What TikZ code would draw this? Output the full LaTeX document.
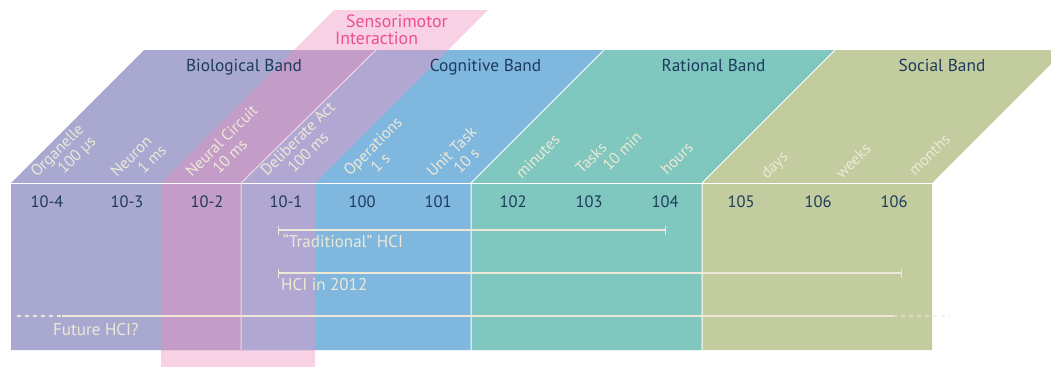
\documentclass[tikz,border=0pt]{standalone}
\usepackage{fontspec}
\setmainfont{PT Sans}
\usetikzlibrary{positioning, arrows.meta}

\definecolor{biopurple}{HTML}{A8A8D1}
\definecolor{actlavender}{HTML}{B0A8D2}
\definecolor{sensomauve}{HTML}{C49CC8}
\definecolor{sensopink}{HTML}{F9D1E4}
\definecolor{cogblue}{HTML}{80B7DF}
\definecolor{ratteal}{HTML}{7FC7BF}
\definecolor{socolive}{HTML}{C2CC9E}
\definecolor{bandnavy}{HTML}{1D3B5C}
\definecolor{scalecream}{HTML}{EEE9D6}
\definecolor{sensomagenta}{HTML}{EC4F95}
\definecolor{sensoline}{HTML}{F2D6E6}

\begin{document}
\begin{tikzpicture}[x=1pt, y=-1pt]

    % Styles
    \tikzstyle{bandlabel} = [text=bandnavy, font=\fontsize{17.3}{19}\selectfont, anchor=base, inner sep=0pt]
    \tikzstyle{sensolabel} = [text=sensomagenta, font=\fontsize{17.8}{19}\selectfont, anchor=base west, inner sep=0pt]
    \tikzstyle{powerlabel} = [text=bandnavy, font=\fontsize{16.5}{18}\selectfont, anchor=base, inner sep=0pt]
    \tikzstyle{timescale} = [text=scalecream, font=\fontsize{16}{18}\selectfont, rotate=45, anchor=base west, inner sep=0pt]
    \tikzstyle{hcilabel} = [text=scalecream, font=\fontsize{17}{19}\selectfont, anchor=base west, inner sep=0pt]
    \tikzstyle{hcirange} = [draw=scalecream, line width=1.2pt, arrows={Bar[width=9pt]-Bar[width=9pt]}]
    \tikzstyle{fadeline} = [draw=scalecream, line width=1.2pt, dash pattern=on 4pt off 4pt]
    \tikzstyle{divider} = [draw=white, line width=1pt]

    \useasboundingbox (0,0) rectangle (1051,367);
    \clip (0,0) rectangle (1051,367);

    % Bands
    \fill[sensopink] (294,50) -- (334,10) -- (488,10) -- (448,50) -- cycle;
    \fill[sensopink] (161,350) rectangle (315,367);
    \fill[biopurple] (11,350) -- (11,183) -- (144,50) -- (448,50) -- (315,183) -- (315,350) -- cycle;
    \fill[cogblue] (315,350) -- (315,183) -- (448,50) -- (604,50) -- (471,183) -- (471,350) -- cycle;
    \fill[ratteal] (471,350) -- (471,183) -- (604,50) -- (835,50) -- (702,183) -- (702,350) -- cycle;
    \fill[socolive] (702,350) -- (702,183) -- (835,50) -- (1065,50) -- (932,183) -- (932,350) -- cycle;
    \fill[sensomauve] (161,350) -- (161,183) -- (294,50) -- (376,50) -- (241,183) -- (241,350) -- cycle;
    \fill[actlavender] (241,350) -- (241,183) -- (376,50) -- (448,50) -- (315,183) -- (315,350) -- cycle;

    % Separateurs
    \draw[divider] (11,183) -- (932,183);
    \draw[divider] (471,350) -- (471,183) -- (604,50);
    \draw[divider] (702,350) -- (702,183) -- (835,50);
    \draw[divider, draw=sensoline] (241,350) -- (241,183) -- (376,50);

    % Noms des bandes
    \node (bio) [bandlabel] at (244,71) {Biological Band};
    \node (cog) [bandlabel] at (485.5,71) {Cognitive Band};
    \node (rat) [bandlabel] at (713.5,71) {Rational Band};
    \node (soc) [bandlabel] at (942,71) {Social Band};
    \node (senso) [sensolabel] at (346,27) {Sensorimotor};
    \node (inter) [sensolabel] at (335,44) {Interaction};

    % Echelle de temps
    \foreach \x/\y/\txt [count=\i] in {37/178/Organelle, 117/178/Neuron, 192/178/Neural Circuit,
        267/177/Deliberate Act, 350/177/Operations, 433/178/Unit Task, 522/180/minutes,
        582/175/Tasks, 667/176/hours, 767/180/days, 842/180/weeks, 915/177/months}
        \node (level\i) [timescale] at (\x,\y) {\txt};
    \foreach \x/\y/\txt [count=\i] in {37/178/100 µs, 117/178/1 ms, 192/178/10 ms,
        267/177/100 ms, 350/177/1 s, 433/178/10 s, 582/175/10 min}
        \node (time\i) [timescale] at (\x+27,\y-3) {\txt};
    \foreach \x/\txt [count=\i] in {47/10-4, 127/10-3, 207/10-2, 286/10-1, 362/100, 438/101,
        513/102, 589/103, 665/104, 741/105, 818/106, 894/106}
        \node (pow\i) [powerlabel] at (\x,207) {\txt};

    % Plages HCI
    \coordinate (trad-a) at (278,230);
    \coordinate (trad-b) at (666,230);
    \coordinate (now-a) at (278,273);
    \coordinate (now-b) at (902,273);
    \coordinate (fut-a) at (17,316);
    \coordinate (fut-b) at (62,316);
    \coordinate (fut-c) at (893,316);
    \coordinate (fut-d) at (950,316);
    \draw[hcirange] (trad-a) -- (trad-b);
    \draw[hcirange] (now-a) -- (now-b);
    \draw[fadeline] (fut-a) -- (fut-b);
    \draw[draw=scalecream, line width=1.2pt] (fut-b) -- (fut-c);
    \draw[fadeline, draw opacity=0.6] (fut-c) -- (fut-d);

    \node (trad) [hcilabel] at (283,247) {“Traditional” HCI};
    \node (now) [hcilabel] at (281,290) {HCI in 2012};
    \node (fut) [hcilabel] at (53,335) {Future HCI?};

\end{tikzpicture}
\end{document}
